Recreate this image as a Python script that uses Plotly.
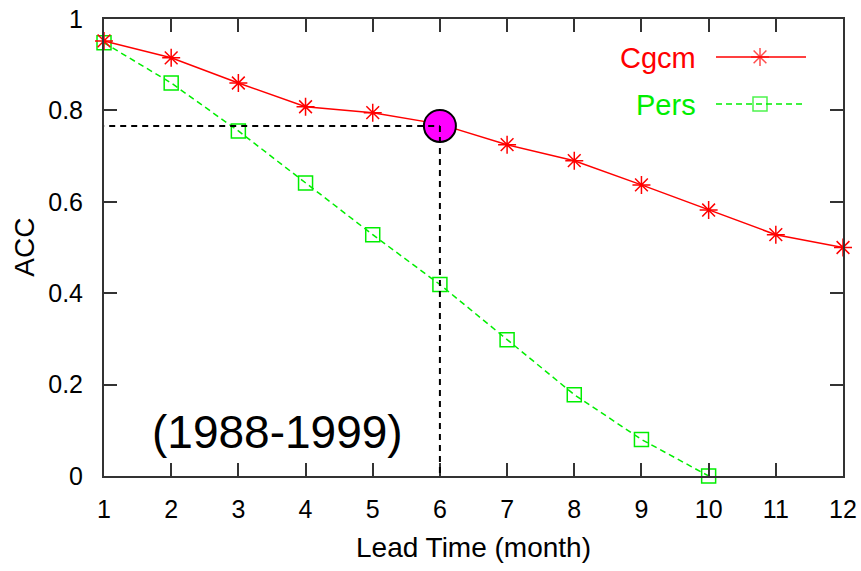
import plotly.graph_objects as go

lead_time = [1, 2, 3, 4, 5, 6, 7, 8, 9, 10, 11, 12]
cgcm_acc = [0.952, 0.915, 0.860, 0.808, 0.795, 0.770, 0.725, 0.690, 0.637, 0.582, 0.528, 0.500]
pers_lead = [1, 2, 3, 4, 5, 6, 7, 8, 9, 10]
pers_acc = [0.948, 0.860, 0.755, 0.641, 0.528, 0.419, 0.298, 0.178, 0.080, 0.0]
y_ticks = [0, 0.2, 0.4, 0.6, 0.8, 1.0]
y_tick_labels = ["0", "0.2", "0.4", "0.6", "0.8", "1"]
highlight_x = 6
highlight_y = 0.766
period_label = "(1988-1999)"

RED = "#ff0000"
GREEN = "#00ee00"
FONT = "Liberation Sans, Arial, sans-serif"

# plot area lands at page x 104..843, y 19..476.5
PW, PH = 739, 457.5

def px(x):
    return (x - 104) / PW

def py(y):
    return (476.5 - y) / PH

fig = go.Figure()

fig.add_trace(go.Scatter(
    x=pers_lead, y=pers_acc, mode="lines+markers",
    line=dict(color=GREEN, width=1.5, dash="6px,4px"),
    marker=dict(symbol="square-open", size=14, color=GREEN, line=dict(color=GREEN, width=1.5)),
    cliponaxis=False, showlegend=False))
fig.add_trace(go.Scatter(
    x=lead_time, y=cgcm_acc, mode="lines+markers",
    line=dict(color=RED, width=1.5),
    marker=dict(symbol="asterisk-open", size=15, color=RED, line=dict(color=RED, width=1.5)),
    cliponaxis=False, showlegend=False))

# dashed guide lines to the highlighted point
fig.add_shape(type="line", xref="x", yref="y", x0=lead_time[0] - 0.25, x1=highlight_x,
              y0=highlight_y, y1=highlight_y, line=dict(color="black", width=2, dash="6px,5px"))
fig.add_shape(type="line", xref="x", yref="y", x0=highlight_x, x1=highlight_x,
              y0=highlight_y, y1=-0.013, line=dict(color="black", width=2, dash="6px,5px"))

fig.add_trace(go.Scatter(
    x=[highlight_x], y=[highlight_y], mode="markers",
    marker=dict(symbol="circle", size=32, color="#ff00ff", line=dict(color="black", width=2)),
    cliponaxis=False, showlegend=False))

# custom gnuplot-style legend on overlay axes
leg_x = [px(716), px(760), px(806)]
fig.add_trace(go.Scatter(
    x=leg_x, y=[py(57)] * 3, xaxis="x2", yaxis="y2", mode="lines+markers",
    line=dict(color=RED, width=1.5),
    marker=dict(symbol="asterisk-open", size=[0, 15, 0], color=RED, line=dict(color=RED, width=1.5)),
    showlegend=False, hoverinfo="skip"))
fig.add_trace(go.Scatter(
    x=leg_x, y=[py(104)] * 3, xaxis="x2", yaxis="y2", mode="lines+markers",
    line=dict(color=GREEN, width=1.5, dash="6px,4px"),
    marker=dict(symbol="square-open", size=[0, 14, 0], color=GREEN, line=dict(color=GREEN, width=1.5)),
    showlegend=False, hoverinfo="skip"))

fig.add_annotation(text="Cgcm", xref="paper", yref="paper", x=px(698), y=py(58),
                   xanchor="right", yanchor="middle", showarrow=False,
                   font=dict(family=FONT, size=29, color=RED))
fig.add_annotation(text="Pers", xref="paper", yref="paper", x=px(698), y=py(105),
                   xanchor="right", yanchor="middle", showarrow=False,
                   font=dict(family=FONT, size=29, color=GREEN))
fig.add_annotation(text=period_label, xref="paper", yref="paper", x=px(277), y=py(432),
                   xanchor="center", yanchor="middle", showarrow=False,
                   font=dict(family=FONT, size=46, color="black"))
fig.add_annotation(text="Lead Time (month)", xref="paper", yref="paper", x=px(473.5),
                   y=py(548), xanchor="center", yanchor="middle", showarrow=False,
                   font=dict(family=FONT, size=28, color="black"))
fig.add_annotation(text="ACC", xref="paper", yref="paper", x=px(25),
                   y=py(248), xanchor="center", yanchor="middle", showarrow=False,
                   textangle=-90, font=dict(family=FONT, size=28, color="black"))

axis_common = dict(showgrid=False, zeroline=False, showline=True, linecolor="#333333", linewidth=2,
                   mirror="ticks", ticks="inside", ticklen=13, tickwidth=2, tickcolor="#333333",
                   automargin=False, ticklabeloverflow="allow",
                   tickfont=dict(family=FONT, size=25, color="black"))

fig.update_layout(
    width=861, height=571,
    margin=dict(l=104, r=18, t=19, b=94.5, autoexpand=False),
    paper_bgcolor="white", plot_bgcolor="white",
    xaxis=dict(range=[1, 12], tickvals=lead_time, ticktext=[str(v) for v in lead_time],
               ticklabelstandoff=10, **axis_common),
    yaxis=dict(range=[0, 1], tickvals=y_ticks, ticktext=y_tick_labels,
               ticklabelstandoff=14, **axis_common),
    xaxis2=dict(range=[0, 1], overlaying="x", visible=False, fixedrange=True),
    yaxis2=dict(range=[0, 1], overlaying="y", visible=False, fixedrange=True),
)

fig.write_html("out.html", config={"displayModeBar": False},
               post_script="document.body.style.margin='0';")
